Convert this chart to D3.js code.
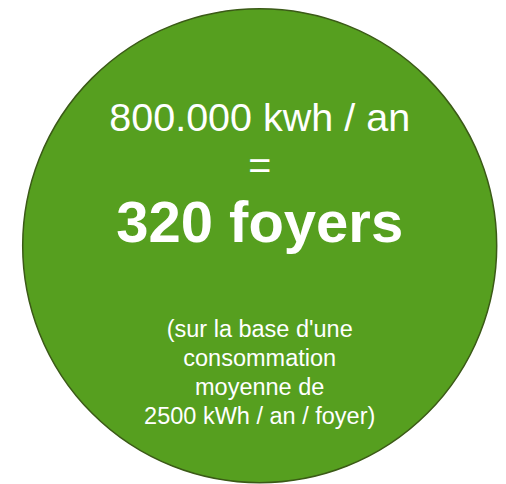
<!DOCTYPE html>
<html>
<head>
<meta charset="utf-8">
<script src="https://cdn.jsdelivr.net/npm/d3@7"></script>
<style>
  html, body { margin: 0; padding: 0; background: #fff; }
  svg { display: block; }
</style>
</head>
<body>
<div id="chart"></div>
<script>
// ---------------  DATA  ---------------
const headLines = ["800.000 kwh / an", "="];
const mainLine = "320 foyers";
const noteLines = ["(sur la base d'une", "consommation", "moyenne de", "2500 kWh / an / foyer)"];

// ---------------  INIT  ---------------
const width = 506;
const height = 484;

const svg = d3.select("#chart")
  .append("svg")
  .attr("width", width)
  .attr("height", height);

const cx = 259.7, cy = 245.7, r = 237;

svg.append("circle")
  .attr("cx", cx)
  .attr("cy", cy)
  .attr("r", r)
  .attr("fill", "#569f1f")
  .attr("stroke", "#3b5a17")
  .attr("stroke-width", 1.5);

// ---------------  TEXT  ---------------
const headY = d3.scalePoint().domain(d3.range(headLines.length)).range([131, 179]);
svg.selectAll("text.head")
  .data(headLines)
  .enter()
  .append("text")
  .attr("class", "head")
  .attr("x", cx)
  .attr("y", (d, i) => headY(i))
  .attr("text-anchor", "middle")
  .attr("font-family", "'Liberation Sans', Arial, sans-serif")
  .attr("font-size", 39.5)
  .attr("fill", "#fff")
  .text(d => d);

svg.append("text")
  .attr("x", cx)
  .attr("y", 241.5)
  .attr("text-anchor", "middle")
  .attr("font-family", "'Liberation Sans', Arial, sans-serif")
  .attr("font-weight", "bold")
  .attr("font-size", 58)
  .attr("fill", "#fff")
  .text(mainLine);

const noteY = d3.scalePoint().domain(d3.range(noteLines.length)).range([337, 423.5]);
svg.selectAll("text.note")
  .data(noteLines)
  .enter()
  .append("text")
  .attr("class", "note")
  .attr("x", cx)
  .attr("y", (d, i) => noteY(i))
  .attr("text-anchor", "middle")
  .attr("font-family", "'Liberation Sans', Arial, sans-serif")
  .attr("font-size", 23.5)
  .attr("fill", "#fff")
  .text(d => d);
</script>
</body>
</html>
